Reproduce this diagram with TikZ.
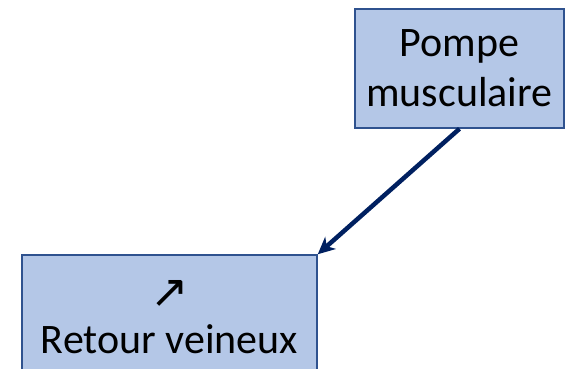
\documentclass[tikz,border=0pt]{standalone}
\usepackage{fontspec}
\setmainfont{Carlito}
\newfontfamily\symfont{DejaVu Sans}
\usetikzlibrary{arrows.meta, positioning}

\definecolor{boxfill}{HTML}{B4C7E7}
\definecolor{boxline}{HTML}{2F528F}
\definecolor{navy}{HTML}{002060}

\begin{document}
\begin{tikzpicture}[x=1pt, y=1pt,
  box/.style={rectangle, draw=boxline, line width=1.5pt, fill=boxfill,
              align=center, inner sep=0pt, font=\fontsize{42}{50}\selectfont},
  arr/.style={-{Stealth[length=17pt, width=16pt, inset=5pt]}, line width=4.5pt, navy},
]
\useasboundingbox (0,0) rectangle (566,369);

%% BOXES
\node[box, minimum width=209pt, minimum height=119pt] (pompe) at (459.5,300.5) {Pompe\\musculaire};
\node[box, minimum width=295pt, minimum height=124pt] (retour) at (169.5,52)
  {{\symfont\fontsize{46}{44}\selectfont ↗}\\[-4pt]Retour veineux};

%% ARROWS
\draw[arr] (pompe.south) -- (retour.north east);
\end{tikzpicture}
\end{document}
